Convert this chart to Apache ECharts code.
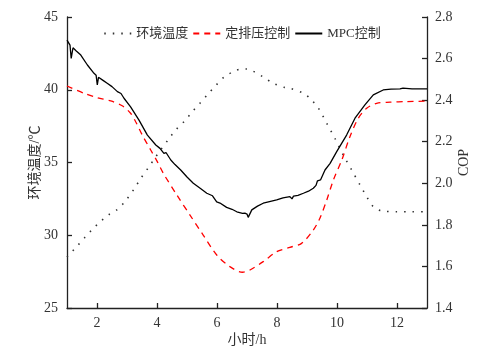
<!DOCTYPE html>
<html><head><meta charset="utf-8">
<script src="https://cdn.jsdelivr.net/npm/echarts@6/dist/echarts.min.js"></script>
<style>html,body{margin:0;padding:0;background:#fff}#c{width:484px;height:355px}</style>
</head><body><div id="c"></div>
<script>
const seriesNames = ['环境温度', '定排压控制', 'MPC控制'];
const xTicks = [2, 4, 6, 8, 10, 12];

const ambientHours = [1.0, 1.34, 1.6, 1.88, 2.14, 2.39, 2.66, 2.93, 3.23, 3.46, 3.71, 3.9, 4.12, 4.4, 4.62, 4.91, 5.16, 5.43, 5.7, 5.97, 6.23, 6.59, 6.82, 6.99, 7.19, 7.52, 7.88, 8.23, 8.43, 8.88, 9.1, 9.38, 9.66, 9.93, 10.21, 10.49, 10.77, 10.99, 11.21, 11.49, 11.99, 12.5, 13];
const ambientTemp = [28.5, 29.26, 29.86, 30.48, 30.98, 31.41, 31.74, 32.31, 33.16, 33.91, 34.64, 35.22, 35.86, 36.64, 37.23, 37.83, 38.45, 39.07, 39.71, 40.31, 40.86, 41.29, 41.43, 41.43, 41.29, 40.9, 40.44, 40.17, 40.1, 39.76, 39.41, 38.73, 37.69, 36.66, 35.51, 34.48, 33.45, 32.65, 31.96, 31.67, 31.62, 31.62, 31.62];

const constHours = [1.0, 1.57, 2.01, 2.46, 2.84, 3.12, 3.29, 3.51, 3.79, 4.01, 4.21, 4.66, 5.1, 5.54, 5.99, 6.43, 6.85, 7.1, 7.54, 7.99, 8.43, 8.82, 9.21, 9.43, 9.66, 9.88, 10.16, 10.43, 10.71, 10.99, 11.32, 11.77, 12.32, 13];
const constCop = [2.468, 2.433, 2.412, 2.396, 2.373, 2.337, 2.296, 2.232, 2.16, 2.104, 2.048, 1.944, 1.847, 1.751, 1.655, 1.599, 1.572, 1.583, 1.623, 1.671, 1.692, 1.711, 1.775, 1.832, 1.92, 2.016, 2.112, 2.224, 2.313, 2.361, 2.385, 2.39, 2.393, 2.395];

const mpcHours = [1.0, 1.1, 1.14, 1.2, 1.3, 1.46, 1.68, 1.9, 1.97, 2.01, 2.05, 2.2, 2.34, 2.5, 2.68, 2.8, 2.9, 3.12, 3.4, 3.68, 3.96, 4.1, 4.23, 4.3, 4.46, 4.6, 4.79, 5.0, 5.21, 5.45, 5.66, 5.85, 5.99, 6.1, 6.32, 6.5, 6.66, 6.85, 6.93, 7.0, 7.04, 7.1, 7.16, 7.35, 7.54, 7.75, 7.99, 8.2, 8.43, 8.5, 8.55, 8.7, 8.88, 9.05, 9.21, 9.3, 9.35, 9.45, 9.6, 9.77, 9.99, 10.32, 10.6, 10.93, 11.21, 11.54, 11.8, 12.1, 12.2, 12.5, 13];
const mpcCop = [2.689, 2.665, 2.601, 2.652, 2.638, 2.617, 2.569, 2.529, 2.52, 2.473, 2.51, 2.495, 2.481, 2.465, 2.441, 2.432, 2.409, 2.368, 2.304, 2.232, 2.184, 2.168, 2.144, 2.148, 2.112, 2.09, 2.064, 2.03, 2.0, 1.975, 1.952, 1.94, 1.911, 1.905, 1.884, 1.875, 1.863, 1.855, 1.856, 1.852, 1.836, 1.84, 1.872, 1.89, 1.904, 1.912, 1.92, 1.93, 1.936, 1.925, 1.938, 1.942, 1.952, 1.962, 1.976, 1.99, 2.012, 2.016, 2.064, 2.096, 2.152, 2.232, 2.313, 2.377, 2.425, 2.449, 2.453, 2.454, 2.458, 2.454, 2.454];

const zip = (a, b) => a.map((v, i) => [v, b[i]]);
const FONT = '"Liberation Serif", "Noto Sans CJK SC", serif';
const axisCommon = {
  axisLine: { show: true, lineStyle: { color: '#222', width: 1.3 } },
  axisTick: { show: true, inside: true, length: 5, lineStyle: { color: '#222', width: 1.3 } },
  axisLabel: { color: '#333', fontSize: 14, fontFamily: FONT },
  splitLine: { show: false },
  nameMoveOverlap: false,
  nameTextStyle: { color: '#333', fontSize: 14, fontFamily: FONT }
};

const chart = echarts.init(document.getElementById('c'), null, { renderer: 'canvas' });
chart.setOption({
  animation: false,
  backgroundColor: '#fff',
  grid: { left: 67, right: 57, top: 17, bottom: 47, containLabel: false },
  legend: {
    top: 22, left: 'center',
    itemWidth: 27, itemHeight: 10, itemGap: 4,
    itemStyle: { opacity: 0 },
    textStyle: { color: '#333', fontSize: 13, fontFamily: FONT },
    data: seriesNames
  },
  xAxis: Object.assign({}, axisCommon, {
    type: 'value', min: 1, max: 13,
    name: '小时/h', nameLocation: 'middle', nameGap: 25,
    axisTick: Object.assign({}, axisCommon.axisTick, { customValues: xTicks }),
    axisLabel: Object.assign({}, axisCommon.axisLabel, { customValues: xTicks, margin: 8 })
  }),
  yAxis: [
    Object.assign({}, axisCommon, {
      type: 'value', min: 25, max: 45, interval: 5, position: 'left',
      name: '环境温度/℃', nameLocation: 'middle', nameGap: 25,
      axisLabel: Object.assign({}, axisCommon.axisLabel, { margin: 9 })
    }),
    Object.assign({}, axisCommon, {
      type: 'value', min: 1.4, max: 2.8, interval: 0.2, position: 'right',
      name: 'COP', nameLocation: 'middle', nameGap: 30,
      axisLabel: Object.assign({}, axisCommon.axisLabel, { margin: 8, formatter: v => v.toFixed(1) })
    })
  ],
  series: [
    { name: seriesNames[0], type: 'line', yAxisIndex: 0, symbol: 'none', smooth: 0.3,
      data: zip(ambientHours, ambientTemp),
      lineStyle: { color: '#333', width: 1.6, type: [1.5, 7] }, itemStyle: { color: '#333' } },
    { name: seriesNames[1], type: 'line', yAxisIndex: 1, symbol: 'none', smooth: 0.3,
      data: zip(constHours, constCop),
      lineStyle: { color: '#ff0000', width: 1.3, type: [6, 5] }, itemStyle: { color: '#ff0000' } },
    { name: seriesNames[2], type: 'line', yAxisIndex: 1, symbol: 'none',
      data: zip(mpcHours, mpcCop),
      lineStyle: { color: '#000', width: 1.3 }, itemStyle: { color: '#000' } }
  ]
});
</script></body></html>
